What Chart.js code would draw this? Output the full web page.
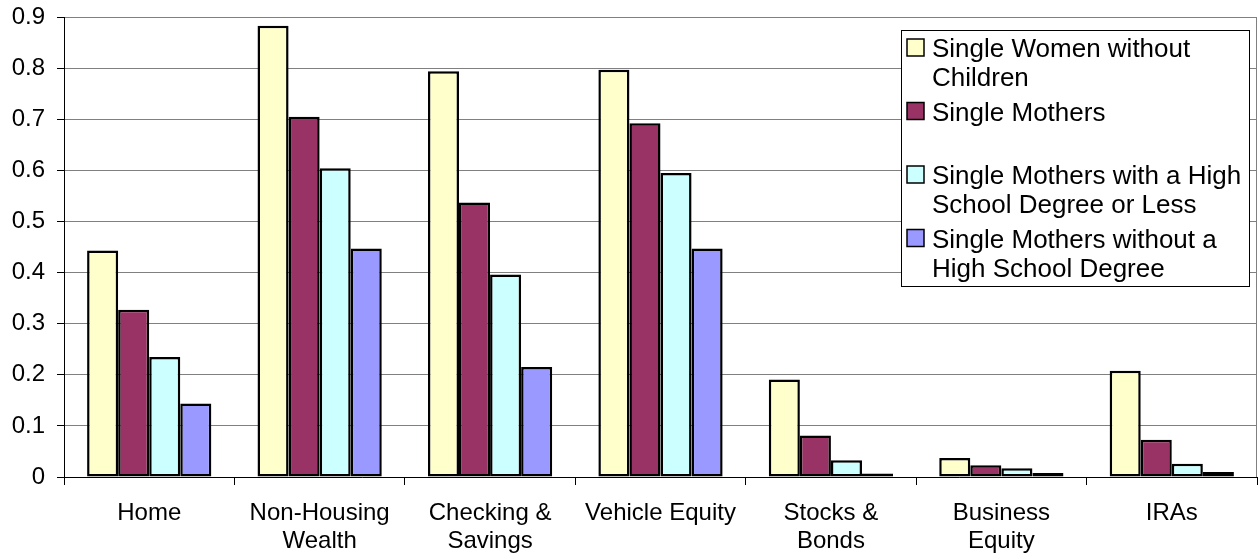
<!DOCTYPE html>
<html>
<head>
<meta charset="utf-8">
<script src="https://cdn.jsdelivr.net/npm/chart.js@4/dist/chart.umd.min.js"></script>
<style>
  body { margin: 0; background: #fff; }
  #wrap { width: 1258px; height: 559px; }
</style>
</head>
<body>
<div id="wrap"><canvas id="activosChart" width="1258" height="559"></canvas></div>
<script>
// categorias (eje x)
const categories = [
    'Home',
    ['Non-Housing', 'Wealth'],
    ['Checking &', 'Savings'],
    'Vehicle Equity',
    ['Stocks &', 'Bonds'],
    ['Business', 'Equity'],
    'IRAs'
];

// series
const singleWomenNoKids = [0.443, 0.883, 0.794, 0.797, 0.191, 0.037, 0.208];
const singleMothers     = [0.327, 0.705, 0.537, 0.692, 0.081, 0.023, 0.073];
const mothersHSorLess   = [0.235, 0.604, 0.396, 0.595, 0.033, 0.017, 0.026];
const mothersNoHS       = [0.144, 0.447, 0.215, 0.447, 0.007, 0.008, 0.010];

const yTickLabels = ['0', '0.1', '0.2', '0.3', '0.4', '0.5', '0.6', '0.7', '0.8', '0.9'];

// lineas de la leyenda, como las parte Excel
const legendLines = [
    ['Single Women without', 'Children'],
    ['Single Mothers', ''],
    ['Single Mothers with a High', 'School Degree or Less'],
    ['Single Mothers without a', 'High School Degree']
];

const colores = ['#FFFFCC', '#993366', '#CCFFFF', '#9999FF'];
const series = [singleWomenNoKids, singleMothers, mothersHSorLess, mothersNoHS];

const FONT = "'Liberation Sans', Arial, sans-serif";

// borde derecho + leyenda dibujada a mano
const legendBox = {
    id: 'legendBox',
    afterDraw(chart) {
        const c = chart.ctx;
        const area = chart.chartArea;

        c.save();
        c.strokeStyle = '#808080';
        c.lineWidth = 1;
        c.beginPath();
        c.moveTo(Math.round(area.right) - 0.5, area.top);
        c.lineTo(Math.round(area.right) - 0.5, area.bottom);
        c.stroke();

        const bx = 901, by = 30, bw = 348, bh = 256;
        c.fillStyle = '#fff';
        c.fillRect(bx, by, bw, bh);
        c.strokeStyle = '#000';
        c.strokeRect(bx + 0.5, by + 0.5, bw, bh);

        c.font = '26px ' + FONT;
        c.textBaseline = 'alphabetic';
        c.textAlign = 'left';

        chart.data.datasets.forEach((ds, i) => {
            const base = by + 27 + i * 63.5;
            c.fillStyle = ds.backgroundColor;
            c.fillRect(907, base - 18, 17, 17);
            c.strokeStyle = '#000';
            c.lineWidth = 1.5;
            c.strokeRect(907, base - 18, 17, 17);

            c.fillStyle = '#000';
            legendLines[i].forEach((txt, j) => {
                c.fillText(txt, 932, base + j * 29);
            });
        });
        c.restore();
    }
};

const ctx = document.getElementById('activosChart');

new Chart(ctx, {
    type: 'bar',
    data: {
        labels: categories,
        datasets: series.map((vals, i) => ({
            label: legendLines[i].join(' ').trim(),
            data: vals,
            backgroundColor: colores[i],
            borderColor: '#000',
            borderWidth: 2.5,
            borderSkipped: false,
            categoryPercentage: 0.729,
            barPercentage: 1.0
        }))
    },
    options: {
        responsive: false,
        animation: false,
        layout: {
            padding: { top: 17, right: 1, left: 0, bottom: 0 }
        },
        plugins: {
            legend: { display: false },
            tooltip: { enabled: false }
        },
        scales: {
            x: {
                grid: {
                    offset: true,
                    drawOnChartArea: false,
                    tickLength: 8,
                    tickColor: '#000'
                },
                border: { color: '#000', width: 1 },
                ticks: {
                    color: '#000',
                    padding: 14,
                    maxRotation: 0,
                    autoSkip: false,
                    font: { family: FONT, size: 24, lineHeight: 1.17 }
                },
                afterFit(scale) {
                    scale.height = 82;
                    scale.paddingLeft = 0;
                    scale.paddingRight = 0;
                }
            },
            y: {
                min: 0,
                max: 0.9,
                grid: {
                    color: '#808080',
                    tickColor: '#000',
                    tickLength: 7
                },
                border: { color: '#000', width: 1 },
                ticks: {
                    stepSize: 0.1,
                    color: '#000',
                    padding: 12,
                    font: { family: FONT, size: 24 },
                    callback: (v, idx) => yTickLabels[idx]
                },
                afterFit(scale) {
                    scale.width = 64;
                    scale.paddingTop = 0;
                    scale.paddingBottom = 0;
                }
            }
        }
    },
    plugins: [legendBox]
});
</script>
</body>
</html>
